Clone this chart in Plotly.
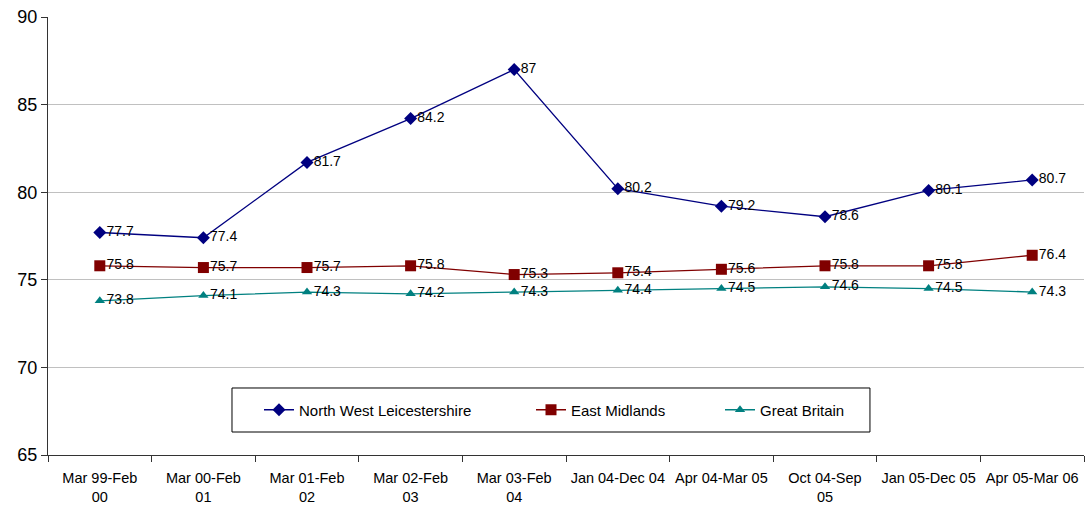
import plotly.graph_objects as go

categories = ["Mar 99-Feb 00", "Mar 00-Feb 01", "Mar 01-Feb 02", "Mar 02-Feb 03",
              "Mar 03-Feb 04", "Jan 04-Dec 04", "Apr 04-Mar 05", "Oct 04-Sep 05",
              "Jan 05-Dec 05", "Apr 05-Mar 06"]
tick_labels = ["Mar 99-Feb<br>00", "Mar 00-Feb<br>01", "Mar 01-Feb<br>02", "Mar 02-Feb<br>03",
               "Mar 03-Feb<br>04", "Jan 04-Dec 04", "Apr 04-Mar 05", "Oct 04-Sep<br>05",
               "Jan 05-Dec 05", "Apr 05-Mar 06"]
nwl = [77.7, 77.4, 81.7, 84.2, 87, 80.2, 79.2, 78.6, 80.1, 80.7]
em = [75.8, 75.7, 75.7, 75.8, 75.3, 75.4, 75.6, 75.8, 75.8, 76.4]
gb = [73.8, 74.1, 74.3, 74.2, 74.3, 74.4, 74.5, 74.6, 74.5, 74.3]
y_ticks = [65, 70, 75, 80, 85, 90]

FONT = "Arial, Liberation Sans, sans-serif"

series = [
    ("North West Leicestershire", nwl, "#000080", "diamond", 10, "legend"),
    ("East Midlands", em, "#800000", "square", 11, "legend2"),
    ("Great Britain", gb, "#008080", "triangle-up", 9, "legend3"),
]

fig = go.Figure()
for name, vals, col, sym, sz, leg in series:
    fig.add_trace(go.Scatter(
        x=categories, y=vals, name=name, mode="lines+markers",
        line=dict(color=col, width=1.3),
        marker=dict(color=col, symbol=sym, size=sz),
        legend=leg,
    ))
for name, vals, col, sym, sz, leg in series:
    fig.add_trace(go.Scatter(
        x=categories, y=vals, mode="markers+text", showlegend=False,
        marker=dict(size=9, opacity=0),
        text=[f"{v:g}" for v in vals], textposition="middle right",
        textfont=dict(family=FONT, size=14, color="#000000"),
        hoverinfo="skip",
    ))

fig.add_shape(type="rect", xref="paper", yref="paper",
              x0=0.1776, x1=0.7934, y0=0.0525, y1=0.153,
              line=dict(color="#000000", width=1), fillcolor="rgba(0,0,0,0)")

leg_common = dict(orientation="h", yanchor="middle", y=0.1027, xanchor="left",
                  bgcolor="rgba(0,0,0,0)", borderwidth=0,
                  font=dict(family=FONT, size=15, color="#000000"))

fig.update_layout(
    width=1088, height=506,
    margin=dict(l=48, r=4, t=17, b=51, autoexpand=False),
    paper_bgcolor="white", plot_bgcolor="white",
    font=dict(family=FONT, color="#000000"),
    legend=dict(x=(259 - 48) / 1036, **leg_common),
    legend2=dict(x=(531 - 48) / 1036, **leg_common),
    legend3=dict(x=(720 - 48) / 1036, **leg_common),
    xaxis=dict(
        type="category", categoryorder="array", categoryarray=categories,
        tickvals=categories, ticktext=tick_labels, automargin=False,
        tickson="boundaries", ticks="outside", ticklen=6, tickcolor="#333333",
        showline=True, linecolor="#333333", linewidth=1,
        showgrid=False, range=[-0.5, 9.5], ticklabelstandoff=10,
        tickfont=dict(family=FONT, size=14.5, color="#000000"),
    ),
    yaxis=dict(
        range=[65, 90], tickvals=y_ticks, ticks="outside", ticklen=6,
        automargin=False,
        tickcolor="#333333", showline=True, linecolor="#333333", linewidth=1,
        showgrid=True, gridcolor="#c0c0c0", gridwidth=1, zeroline=False,
        tickfont=dict(family=FONT, size=18, color="#000000"),
    ),
)

fig.write_html("out.html", config={"displayModeBar": False},
               post_script="document.body.style.margin='0';document.body.style.overflow='hidden';")
